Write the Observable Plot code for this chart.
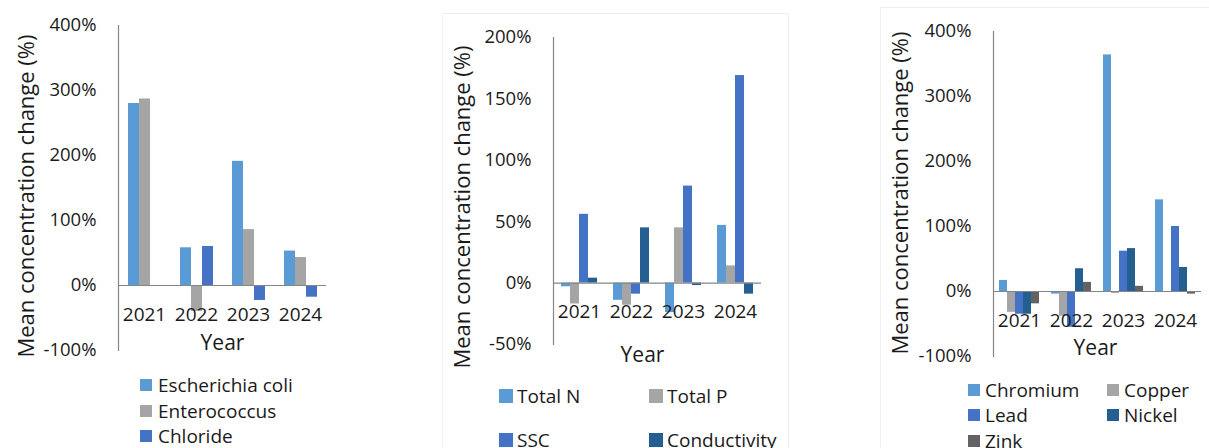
<!DOCTYPE html>
<html>
<head>
<meta charset="utf-8">
<script src="https://cdn.jsdelivr.net/npm/d3@7"></script>
<script src="https://cdn.jsdelivr.net/npm/@observablehq/plot@0.6"></script>
<style>
  html, body { margin: 0; padding: 0; background: #fff; }
  #root { position: relative; width: 1209px; height: 448px; overflow: hidden; font-family: "Open Sans", sans-serif; color: #1a1a1a; }
  .panel { position: absolute; top: 0; }
  .box { position: absolute; border: 1px solid #efefef; pointer-events: none; }
  .item { position: absolute; display: flex; align-items: center; font-size: 19px; line-height: 24px; white-space: nowrap; color: #1a1a1a; }
  .sw { display: inline-block; flex: none; }
</style>
</head>
<body>
<div id="root"></div>
<script>
// ---------- data ----------
const years = ["2021", "2022", "2023", "2024"];

// Panel 1: bacteria & chloride
const bacteriaSeries = ["Escherichia coli", "Enterococcus", "Chloride"];
const ecoli = [280, 58, 191, 53];
const enterococcus = [287, -40, 86, 43];
const chloride = [null, 60, -23, -18];

// Panel 2: nutrients, SSC, conductivity
const nutrientSeries = ["Total N", "Total P", "SSC", "Conductivity"];
const totalN = [-3, -14, -24, 47];
const totalP = [-17, -18, 45, 14];
const ssc = [56, -9, 79, 169];
const conductivity = [4, 45, -2, -9];

// Panel 3: metals
const metalSeries = ["Chromium", "Copper", "Lead", "Nickel", "Zink"];
const chromium = [17, -4, 364, 141];
const copper = [-32, -38, -3, 0];
const lead = [-35, -55, 62, 100];
const nickel = [-35, 35, 66, 37];
const zink = [-19, 14, 8, -4];

const ticksWide = [-100, 0, 100, 200, 300, 400];
const ticksNarrow = [-50, 0, 50, 100, 150, 200];

const yTitle = "Mean concentration change (%)";
const xTitle = "Year";

// ---------- styles ----------
const palette = ["#5B9BD5", "#A5A5A5", "#4472C4", "#255E91", "#636363"];
const axisColor = "#858585";
const textColor = "#1a1a1a";

const root = document.getElementById("root");

function panel(cfg) {
  const rows = [];
  years.forEach((yr, i) => cfg.series.forEach((s, j) => {
    const v = cfg.values[j][i];
    if (v != null) rows.push({year: yr, series: s, value: v});
  }));
  const colors = palette.slice(0, cfg.series.length);
  const svg = Plot.plot({
    width: cfg.width,
    height: 370,
    marginTop: cfg.mt,
    marginBottom: cfg.mb,
    marginLeft: cfg.ml,
    marginRight: cfg.mr,
    style: {fontFamily: "Open Sans, sans-serif", fontSize: "18px", color: textColor, background: "transparent", overflow: "visible"},
    fx: {domain: years, axis: null, paddingInner: 0, paddingOuter: 0},
    x: {domain: cfg.series, axis: null, paddingInner: 0, paddingOuter: cfg.po},
    y: {domain: [cfg.ticks[0], cfg.ticks[cfg.ticks.length - 1]], axis: null},
    color: {domain: cfg.series, range: colors},
    marks: [
      Plot.barY(rows, {fx: "year", x: "series", y: "value", fill: "series"}),
      Plot.ruleY([0], {stroke: axisColor, strokeWidth: 1.2}),
      Plot.frame({anchor: "left", stroke: axisColor, strokeWidth: 1.2, facetAnchor: "left"}),
      Plot.axisY(cfg.ticks, {tickSize: 0, tickPadding: 22, tickFormat: d => d + "%", fontSize: 18.5, fill: textColor, label: null}),
      Plot.text(years, {fx: d => d, y: () => 0, text: d => d, dy: 29, lineAnchor: "middle", fontSize: 19, fill: textColor}),
      Plot.text([yTitle], {frameAnchor: "left", textAnchor: "middle", lineAnchor: "middle", rotate: -90, dx: cfg.tdx, dy: cfg.tdy, fontSize: 22, fill: textColor, facetAnchor: "left"}),
      Plot.text([xTitle], {fx: () => years[1], frameAnchor: "bottom-right", textAnchor: "middle", lineAnchor: "middle", dx: cfg.ydx, dy: cfg.ydy, fontSize: 21, fill: textColor})
    ]
  });
  const wrap = document.createElement("div");
  wrap.className = "panel";
  wrap.style.left = cfg.left + "px";
  wrap.appendChild(svg);
  root.appendChild(wrap);

  cfg.series.forEach((s, j) => {
    const pos = cfg.legend[j];
    const it = document.createElement("div");
    it.className = "item";
    it.style.left = pos[0] + "px";
    it.style.top = (pos[1] - 12) + "px";
    const sw = document.createElement("span");
    sw.className = "sw";
    sw.style.width = cfg.sw + "px";
    sw.style.height = cfg.sw + "px";
    sw.style.background = colors[j];
    sw.style.marginRight = cfg.gap + "px";
    it.appendChild(sw);
    it.appendChild(document.createTextNode(s));
    root.appendChild(it);
  });
}

// faint chart-area borders
function box(l, t, w, h) {
  const b = document.createElement("div");
  b.className = "box";
  b.style.left = l + "px"; b.style.top = t + "px";
  b.style.width = w + "px"; b.style.height = h + "px";
  root.appendChild(b);
}
box(442, 13, 345, 460);
box(880, 7, 400, 460);

panel({
  series: bacteriaSeries, values: [ecoli, enterococcus, chloride], ticks: ticksWide,
  left: 0, width: 400, mt: 25, mb: 20, ml: 116, mr: 73, po: 0.75,
  tdx: -92, tdy: 8, ydx: 0, ydy: -7,
  sw: 12, gap: 6, legend: [[140, 385], [140, 411], [140, 436]]
});
panel({
  series: nutrientSeries, values: [totalN, totalP, ssc, conductivity], ticks: ticksNarrow,
  left: 400, width: 400, mt: 37, mb: 26, ml: 153, mr: 39, po: 0.68,
  tdx: -91, tdy: 16, ydx: -15, ydy: 11,
  sw: 14, gap: 4, legend: [[499, 396], [649, 396], [499, 440], [649, 440]]
});
panel({
  series: metalSeries, values: [chromium, copper, lead, nickel, zink], ticks: ticksWide,
  left: 800, width: 409, mt: 31, mb: 14, ml: 192, mr: 7, po: 0.66,
  tdx: -93, tdy: -1, ydx: -2, ydy: -8,
  sw: 12, gap: 5, legend: [[968, 390], [1107, 390], [968, 415], [1107, 415], [968, 441]]
});
</script>
</body>
</html>
